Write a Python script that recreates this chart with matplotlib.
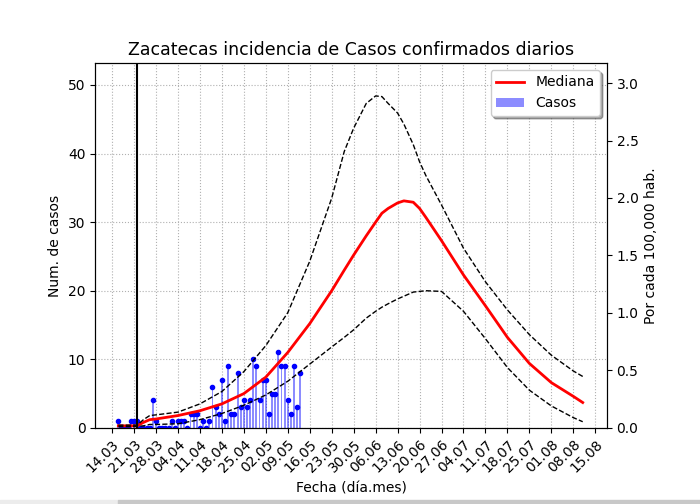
import pandas as pd
import matplotlib.pyplot as plt
import matplotlib.dates as mdates
from matplotlib.patches import Rectangle

# Daily confirmed cases (16.03 - 13.05)
case_start = '2020-03-16'
cases = [1, 0, 0, 0, 1, 1, 1, 0, 0, 0, 0, 4, 1, 0, 0, 0, 0, 1, 0, 1,
         1, 1, 0, 2, 2, 2, 0, 1, 0, 1, 6, 3, 2, 7, 1, 9, 2, 2, 8, 3,
         4, 3, 4, 10, 9, 4, 7, 7, 2, 5, 5, 11, 9, 9, 4, 2, 9, 3, 8]

# Model curves (median and band)
curve_dates = ['2020-03-16', '2020-03-22', '2020-03-24', '2020-03-26', '2020-03-28',
               '2020-04-04', '2020-04-11', '2020-04-18', '2020-04-25', '2020-05-02',
               '2020-05-09', '2020-05-16', '2020-05-23', '2020-05-27', '2020-05-30',
               '2020-06-03', '2020-06-06', '2020-06-08', '2020-06-10', '2020-06-13',
               '2020-06-15', '2020-06-18', '2020-06-20', '2020-06-22', '2020-06-27',
               '2020-07-04', '2020-07-11', '2020-07-18', '2020-07-25', '2020-08-01',
               '2020-08-08', '2020-08-11']
mediana = [0.3, 0.3, 0.8, 1.2, 1.3, 1.8, 2.5, 3.5, 5.0, 7.4, 11.0, 15.2, 20.0, 23.0, 25.2,
           28.0, 30.0, 31.3, 32.0, 32.8, 33.1, 32.9, 32.0, 30.7, 27.3, 22.3, 17.8, 13.2,
           9.4, 6.6, 4.6, 3.7]
superior = [0.4, 0.4, 1.2, 1.8, 1.9, 2.3, 3.5, 5.3, 8.2, 12.0, 16.8, 24.3, 33.5, 40.3, 43.7,
            47.3, 48.4, 48.3, 47.3, 45.9, 44.3, 41.3, 38.8, 36.8, 32.5, 26.2, 21.3, 17.2,
            13.6, 10.6, 8.3, 7.5]
inferior = [0.2, 0.2, 0.3, 0.5, 0.5, 0.6, 1.2, 2.1, 3.3, 4.8, 6.8, 9.3, 11.8, 13.2, 14.3,
            16.0, 17.0, 17.6, 18.1, 18.8, 19.2, 19.8, 19.9, 20.0, 19.9, 17.0, 13.0, 8.8,
            5.5, 3.2, 1.5, 0.9]

inicio_medidas = '2020-03-22'
poblacion = 1676000

case_dates = pd.date_range(case_start, periods=len(cases), freq='D')
curve_dates = pd.to_datetime(curve_dates)

fig = plt.figure(figsize=(7, 5.04), dpi=100)
ax = fig.add_axes([0.136, 0.151, 0.731, 0.724])

ax.bar(case_dates, cases, width=0.6, color='blue', alpha=0.45, label='Casos', zorder=2)
ax.plot(case_dates, cases, 'o', color='blue', markersize=3, zorder=3)
ax.plot(curve_dates, mediana, color='red', lw=2, label='Mediana', zorder=4)
ax.plot(curve_dates, superior, 'k--', lw=1, zorder=4)
ax.plot(curve_dates, inferior, 'k--', lw=1, zorder=4)
ax.axvline(pd.Timestamp(inicio_medidas), color='black', lw=1.5, zorder=5)

ax.set_xlim(pd.Timestamp('2020-03-08 15:00'), pd.Timestamp('2020-08-18 17:00'))
ax.set_ylim(0, 53.2)
ticks = pd.date_range('2020-03-14', '2020-08-15', freq='7D')
ax.set_xticks(ticks)
ax.xaxis.set_major_formatter(mdates.DateFormatter('%d.%m'))
plt.setp(ax.get_xticklabels(), rotation=45, ha='right', rotation_mode='anchor')
ax.tick_params(labelsize=10)
ax.grid(True, color='#b0b0b0', ls=':', lw=0.8)
ax.set_axisbelow(True)

ax.set_xlabel('Fecha (día.mes)', fontsize=10)
ax.set_ylabel('Num. de casos', fontsize=10)
ax.set_title('Zacatecas incidencia de Casos confirmados diarios', fontsize=12.5)

handles, labels = ax.get_legend_handles_labels()
order = [labels.index('Mediana'), labels.index('Casos')]
ax.legend([handles[i] for i in order], [labels[i] for i in order],
          loc='upper right', shadow=True, fontsize=10)

ax2 = ax.twinx()
ax2.set_ylim(0, 53.2 / poblacion * 100000)
ax2.set_yticks([0.0, 0.5, 1.0, 1.5, 2.0, 2.5, 3.0])
ax2.tick_params(labelsize=10)
ax2.set_ylabel('Por cada 100,000 hab.', fontsize=10)

# screenshot strip at the bottom
fig.patches.append(Rectangle((0, 0), 118 / 700, 4 / 504, transform=fig.transFigure,
                             color='#ececec', zorder=0))
fig.patches.append(Rectangle((118 / 700, 0), 1, 4 / 504, transform=fig.transFigure,
                             color='#c8c8c8', zorder=0))

fig.savefig('out.png', dpi=100)
